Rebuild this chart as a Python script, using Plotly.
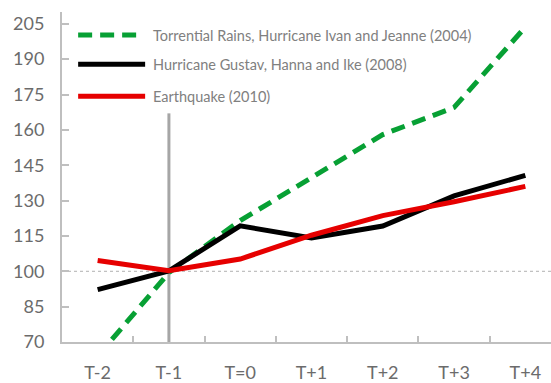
import plotly.graph_objects as go

# Periods relative to the disaster year
periods = ["T-2", "T-1", "T=0", "T+1", "T+2", "T+3", "T+4"]

# Index values (T-1 = 100) for each disaster episode
rains_2004 = [64, 99.4, 121.5, 139.5, 158, 169.5, 203.6]
hurricanes_2008 = [92.2, 100.2, 119.3, 114.1, 119.2, 132, 140.7]
earthquake_2010 = [104.6, 100.2, 105.2, 115.3, 123.6, 129.5, 136]

series_names = [
    "Torrential Rains, Hurricane Ivan and Jeanne (2004)",
    "Hurricane Gustav, Hanna and Ike (2008)",
    "Earthquake (2010)",
]
series_colors = ["#07a034", "#000000", "#e60000"]
series_dashes = ["dash", "solid", "solid"]

y_ticks = [70, 85, 100, 115, 130, 145, 160, 175, 190, 205]
baseline = 100
event_period = "T-1"
event_line_top = 167

FONT = "Lato"
GRAY_TEXT = "#6b6b6b"
AXIS_GRAY = "#bfbfbf"

fig = go.Figure()
for name, vals, col, dash in zip(series_names,
                                 [rains_2004, hurricanes_2008, earthquake_2010],
                                 series_colors, series_dashes):
    fig.add_trace(go.Scatter(
        x=periods, y=vals, mode="lines", name=name,
        line=dict(color=col, width=5, dash="14px,8px" if dash == "dash" else "solid"),
        showlegend=False, cliponaxis=True,
    ))

# Dotted baseline at 100
fig.add_shape(type="line", xref="paper", yref="y", x0=0, x1=1, y0=baseline, y1=baseline,
              line=dict(color="#b0b0b0", width=1, dash="dot"), layer="below")
# Vertical marker at the pre-event period
fig.add_shape(type="line", xref="x", yref="y", x0=event_period, x1=event_period,
              y0=y_ticks[0], y1=event_line_top,
              line=dict(color="#a6a6a6", width=3), layer="below")

# Legend drawn by hand (longer line samples)
legend_rows = [0.930, 0.842, 0.745]
for name, col, dash, yy in zip(series_names, series_colors, series_dashes, legend_rows):
    fig.add_shape(type="line", xref="paper", yref="paper", x0=0.033, x1=0.17 if dash == "solid" else 0.155,
                  y0=yy, y1=yy,
                  line=dict(color=col, width=5, dash="14px,8px" if dash == "dash" else "solid"))
    fig.add_annotation(x=0.181, y=yy, xref="paper", yref="paper", text=name, showarrow=False,
                       xanchor="left", yanchor="middle",
                       font=dict(family=FONT, size=14.5, color="#808080"))

fig.update_layout(
    width=551, height=383,
    margin=dict(l=62, r=0, t=12, b=41),
    paper_bgcolor="white", plot_bgcolor="white",
    font=dict(family=FONT, color=GRAY_TEXT),
    showlegend=False,
)
fig.update_xaxes(
    type="category", categoryorder="array", categoryarray=periods,
    range=[-0.5, 6.36],
    showgrid=False, zeroline=False,
    showline=True, linecolor=AXIS_GRAY, linewidth=2,
    ticks="inside", ticklen=6, tickcolor=AXIS_GRAY, tickwidth=1.5, tickson="boundaries",
    tickfont=dict(family=FONT, size=18, color=GRAY_TEXT),
    ticklabelstandoff=13,
)
fig.update_yaxes(
    range=[70, 210], tickvals=y_ticks,
    showgrid=False, zeroline=False,
    showline=True, linecolor=AXIS_GRAY, linewidth=2,
    ticks="inside", ticklen=7, tickcolor=AXIS_GRAY, tickwidth=1.5,
    tickfont=dict(family=FONT, size=18, color=GRAY_TEXT),
    ticklabelstandoff=12,
)

fig.write_html("out.html")
